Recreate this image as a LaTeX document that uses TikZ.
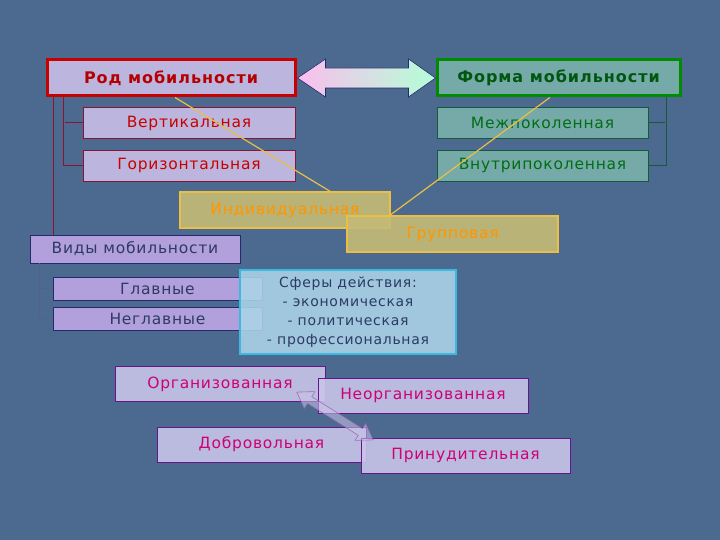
\documentclass[tikz,border=0pt]{standalone}
\usepackage{fontspec}
\setmainfont{Liberation Sans}
\newfontfamily\boxfont[LetterSpace=5]{DejaVu Sans}
\newfontfamily\titlefont[LetterSpace=6]{DejaVu Sans}
\usetikzlibrary{calc}
\definecolor{bgblue}{RGB}{76,106,143}
\definecolor{lav}{RGB}{188,182,222}
\definecolor{lavb}{RGB}{178,160,220}
\definecolor{lavc}{RGB}{200,196,232}
\definecolor{teal}{RGB}{118,170,168}
\definecolor{mustard}{RGB}{196,186,118}
\definecolor{cyanfill}{RGB}{172,212,232}
\definecolor{redtxt}{RGB}{200,0,0}
\definecolor{redline}{RGB}{140,20,50}
\definecolor{greentxt}{RGB}{0,110,20}
\definecolor{greenline}{RGB}{20,90,60}
\definecolor{orangetxt}{RGB}{255,150,0}
\definecolor{orangeline}{RGB}{235,190,70}
\definecolor{slatetxt}{RGB}{45,58,100}
\definecolor{magtxt}{RGB}{205,0,120}
\definecolor{purpline}{RGB}{105,20,140}
\definecolor{cyanline}{RGB}{60,185,225}
\definecolor{navy}{RGB}{40,40,110}
\begin{document}
\begin{tikzpicture}[x=1pt,y=-1pt,
  box/.style={draw, inner sep=0pt, line width=0.8pt, minimum width=210pt, minimum height=31pt,
    font=\boxfont\fontsize{15.5}{18}\selectfont},
  rodbox/.style={box, fill=lav, draw=redtxt, line width=3pt, text=redtxt!90!black, minimum width=248pt, minimum height=36pt,
    font=\titlefont\bfseries\fontsize{16}{18}\selectfont},
  formbox/.style={box, fill=teal, draw=green!55!black, line width=3pt, text=greentxt!80!black, minimum width=243pt, minimum height=36pt,
    font=\titlefont\bfseries\fontsize{16}{18}\selectfont},
  redbox/.style={box, fill=lav, draw=redline, text=redtxt},
  greenbox/.style={box, fill=teal, draw=greenline, text=greentxt},
  yelbox/.style={box, fill=mustard, fill opacity=0.92, text opacity=1, draw=orangeline, line width=1.2pt, text=orangetxt, minimum height=36pt},
  bluebox/.style={box, fill=lavb, draw=navy, text=slatetxt},
  magbox/.style={box, fill=lavc, fill opacity=0.9, text opacity=1, draw=purpline, text=magtxt, minimum height=35pt},
  redln/.style={draw=redline, line width=1pt},
  greenln/.style={draw=greenline, line width=1pt},
  slateln/.style={draw=slatetxt!80, line width=0.8pt},
  orangeln/.style={draw=orangeline, line width=1.2pt}
]
\useasboundingbox (0,0) rectangle (720,540);
\fill[bgblue] (0,0) rectangle (720,540);

% top boxes
\node[rodbox] (rod) at (171,78) {Род мобильности};
\node[formbox] (form) at (558.5,78) {Форма мобильности};
\node[redbox, minimum width=212pt] (vert) at (189,123) {Вертикальная};
\node[redbox, minimum width=212pt] (hor) at (189,165.5) {Горизонтальная};
\node[greenbox, minimum width=211pt] (mezh) at (542.5,123) {Межпоколенная};
\node[greenbox, minimum width=211pt] (vnut) at (542.5,165.5) {Внутрипоколенная};

% brackets
\draw[redln] ([xshift=18pt]rod.south west) |- (hor.west);
\draw[redln] (vert.west) -- ++(-18,0);
\draw[greenln] ([xshift=-15pt]form.south east) |- (vnut.east);
\draw[greenln] (mezh.east) -- ++(17,0);

% double arrow between title boxes
\coordinate (al) at (rod.east);
\coordinate (ar) at (form.west);
\shade[left color={rgb,255:red,250;green,190;blue,238}, right color={rgb,255:red,180;green,255;blue,215}, draw=navy, line width=0.6pt]
  ($(al)+(1,0)$) -- ++(28,-19) -- ++(0,9) -- ($(ar)+(-27,-10)$) -- ++(0,-9) -- ($(ar)+(0,0)$)
  -- ++(-27,19) -- ++(0,-9) -- ($(al)+(29,10)$) -- ++(0,9) -- cycle;

% middle
\node[bluebox, minimum height=28pt] (vidy) at (135,249) {Виды мобильности};
\draw[redln] ([xshift=8pt]rod.south west) -- ([xshift=8pt]rod.south west |- vidy.north);

\node[yelbox] (ind) at (285,210) {Индивидуальная};
\node[yelbox, minimum width=211pt] (grp) at (452.5,234) {Групповая};
\draw[orangeln] ($(rod.south west)!0.516!(rod.south east)$) -- ($(ind.north west)!0.714!(ind.north east)$);
\draw[orangeln] ($(form.south west)!0.465!(form.south east)$) -- ($(grp.north west)!0.204!(grp.north east)$);

\node[bluebox, minimum width=209pt, minimum height=23pt] (glav) at (157.5,288.5) {Главные};
\node[bluebox, minimum width=209pt, minimum height=23pt] (neglav) at (157.5,318.5) {Неглавные};
\draw[slateln] ([xshift=10pt]vidy.south west) |- (neglav.west);
\draw[slateln] (glav.west) -- ++(-13,0);

\node[box, fill=cyanfill, fill opacity=0.88, text opacity=1, draw=cyanline, line width=1.2pt, text=slatetxt,
  minimum width=216pt, minimum height=84pt, align=center, font=\boxfont\fontsize{14}{19}\selectfont] (sfer) at (348,312)
  {Сферы действия:\\- экономическая\\- политическая\\- профессиональная};

% bottom
\node[magbox] (org) at (220,384) {Организованная};
\node[magbox] (neorg) at (423,395.5) {Неорганизованная};
\node[magbox, minimum width=209pt] (dobr) at (261.5,444.5) {Добровольная};
\node[magbox, minimum width=209pt] (prin) at (465.5,455.5) {Принудительная};

\filldraw[fill=lavc, fill opacity=0.55, draw=purpline!70, draw opacity=0.8, line width=0.6pt]
  (296.8,392.1) -- (314.9,391.6) -- (311.7,396.7) -- (362.5,428.5) -- (365.7,423.4) -- (373.2,439.9)
  -- (355.1,440.4) -- (358.3,435.3) -- (307.5,403.5) -- (304.3,408.6) -- cycle;
\end{tikzpicture}
\end{document}
